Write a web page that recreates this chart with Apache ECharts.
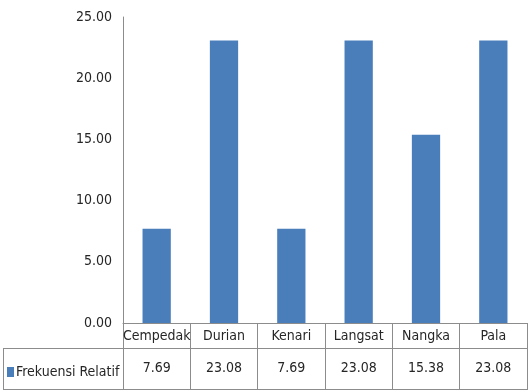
<!DOCTYPE html>
<html><head><meta charset="utf-8">
<script src="https://cdn.jsdelivr.net/npm/echarts@6/dist/echarts.min.js"></script>
<style>html,body{margin:0;padding:0;background:#fff}#c{width:529px;height:392px}</style>
</head><body><div id="c"></div>
<script>
const categories = ['Cempedak', 'Durian', 'Kenari', 'Langsat', 'Nangka', 'Pala'];
const seriesName = 'Frekuensi Relatif';
const values = [7.69, 23.08, 7.69, 23.08, 15.38, 23.08];
const yTicks = [0, 5, 10, 15, 20, 25];

const FONT = "'Liberation Sans Narrow', 'DejaVu Sans Condensed', Lato, sans-serif";
const TXT = '#262626';
const LINE = '#8c8c8c';
const chart = echarts.init(document.getElementById('c'));
chart.setOption({
  animation: false,
  backgroundColor: '#fff',
  textStyle: { fontFamily: FONT },
  grid: { left: 123, right: 2, top: 17, bottom: 69, containLabel: false },
  legend: {
    data: [seriesName], left: 2, top: 360, icon: 'rect', itemWidth: 7, itemHeight: 10,
    textStyle: { fontFamily: FONT, fontSize: 14, color: TXT, padding: [0, 0, 0, -3] },
    selectedMode: false
  },
  xAxis: [
    {
      type: 'category', data: categories, position: 'bottom',
      axisLine: { show: true, lineStyle: { color: LINE, width: 1 } },
      axisTick: { show: true, interval: 0, length: 67, lineStyle: { color: LINE } },
      axisLabel: { interval: 0, fontFamily: FONT, fontSize: 14, color: TXT, margin: 6 },
      splitLine: { show: false }
    },
    {
      type: 'category', data: values.map(v => v.toFixed(2)), position: 'bottom', offset: 25,
      axisLine: { show: false }, axisTick: { show: false },
      axisLabel: { interval: 0, fontFamily: FONT, fontSize: 14, color: TXT, margin: 13 },
      splitLine: { show: false }
    }
  ],
  yAxis: {
    type: 'value', min: yTicks[0], max: yTicks[yTicks.length - 1], interval: 5,
    axisLine: { show: true, lineStyle: { color: LINE } },
    axisTick: { show: false },
    splitLine: { show: false },
    axisLabel: { fontFamily: FONT, fontSize: 14, color: TXT, margin: 11, formatter: v => v.toFixed(2) }
  },
  series: [{
    name: seriesName, type: 'bar', data: values, barWidth: '42%',
    itemStyle: { color: '#4a7ebb' }
  }],
  graphic: [
    { type: 'line', shape: { x1: 3, y1: 348.5, x2: 527, y2: 348.5 }, style: { stroke: LINE, lineWidth: 1 } },
    { type: 'line', shape: { x1: 3, y1: 389.5, x2: 527, y2: 389.5 }, style: { stroke: LINE, lineWidth: 1 } },
    { type: 'line', shape: { x1: 3.5, y1: 348, x2: 3.5, y2: 390 }, style: { stroke: LINE, lineWidth: 1 } }
  ]
});
</script></body></html>
